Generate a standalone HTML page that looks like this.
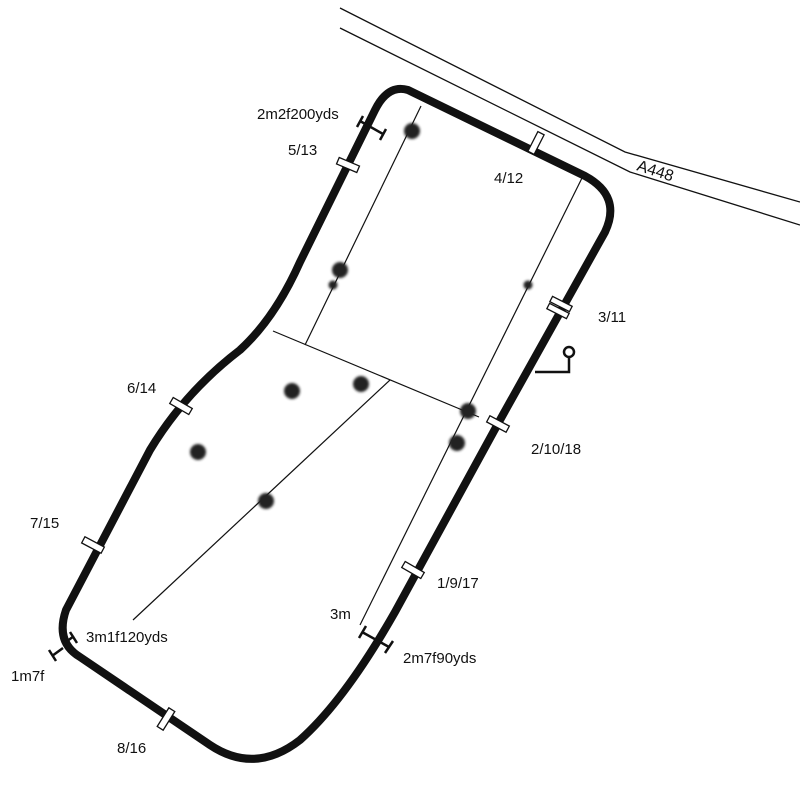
<!DOCTYPE html>
<html><head><style>body{margin:0;background:#fff}svg{display:block}text{font-family:"Liberation Sans",sans-serif;font-size:15px;fill:#111}</style></head>
<body>
<svg width="800" height="785" viewBox="0 0 800 785" xmlns="http://www.w3.org/2000/svg">
<defs><filter id="b"><feGaussianBlur stdDeviation="1.3"/></filter></defs>
<!-- road -->
<polyline points="340,8 625,152 800,202" fill="none" stroke="#111" stroke-width="1.3"/>
<polyline points="340,28 630,172 800,225" fill="none" stroke="#111" stroke-width="1.3"/>
<text x="636" y="170" transform="rotate(18 636 170)" style="font-size:16px">A448</text>
<!-- inner lines -->
<g stroke="#111" stroke-width="1.2" fill="none">
<line x1="421" y1="106" x2="305" y2="345"/>
<line x1="582" y1="178" x2="360" y2="625"/>
<line x1="273" y1="331" x2="479" y2="417"/>
<line x1="390" y1="380" x2="133" y2="620"/>
</g>
<!-- track -->
<path d="M408,90 L585,176 Q622,196 605,232 L500,420 L395,612 Q345,700 300,740 Q255,775 210,745 L80,657 Q55,642 66,610 L150,450 Q185,392 240,350 Q275,318 300,262 L375,110 Q388,84 408,90 Z" fill="none" stroke="#111" stroke-width="8" stroke-linejoin="round"/>
<!-- dots -->
<g fill="#222" filter="url(#b)">
<circle cx="412" cy="131" r="8"/><circle cx="340" cy="270" r="8"/><circle cx="333" cy="285" r="4.5"/>
<circle cx="528" cy="285" r="4.5"/><circle cx="292" cy="391" r="8"/><circle cx="361" cy="384" r="8"/>
<circle cx="468" cy="411" r="8"/><circle cx="457" cy="443" r="8"/><circle cx="198" cy="452" r="8"/>
<circle cx="266" cy="501" r="8"/>
</g>
<!-- markers -->
<g fill="#fff" stroke="#111" stroke-width="1.3">
<rect x="-11" y="-3.5" width="22" height="7" transform="translate(536,143) rotate(-63)"/>
<rect x="-11" y="-3.5" width="22" height="7" transform="translate(348,165) rotate(23)"/>
<rect x="-11" y="-3" width="22" height="6" transform="translate(561,304) rotate(27)"/>
<rect x="-11" y="-3" width="22" height="6" transform="translate(558,311) rotate(27)"/>
<rect x="-11" y="-3.5" width="22" height="7" transform="translate(498,424) rotate(28)"/>
<rect x="-11" y="-3.5" width="22" height="7" transform="translate(181,406) rotate(30)"/>
<rect x="-11" y="-3.5" width="22" height="7" transform="translate(93,545) rotate(28)"/>
<rect x="-11" y="-3.5" width="22" height="7" transform="translate(413,570) rotate(30)"/>
<rect x="-11" y="-3.5" width="22" height="7" transform="translate(166,719) rotate(-58)"/>
</g>
<!-- distance ticks -->
<g stroke="#111" stroke-width="2.5" fill="none">
<path d="M360,121 L383,134 M357,127 L363,116 M380,140 L386,129"/>
<path d="M362,632 L389,647 M359,638 L366,626 M385,653 L393,641"/>
<path d="M52,656 L63,648 M49,650 L56,661 M66,642 L74,636 M70,632 L77,643"/>
<path d="M535,372 L569,372 L569,357"/>
</g>
<circle cx="569" cy="352" r="5" fill="#fff" stroke="#111" stroke-width="2.5"/>
<!-- labels -->
<text x="257" y="119">2m2f200yds</text>
<text x="288" y="155">5/13</text>
<text x="494" y="183">4/12</text>
<text x="598" y="322">3/11</text>
<text x="531" y="454">2/10/18</text>
<text x="127" y="393">6/14</text>
<text x="30" y="528">7/15</text>
<text x="437" y="588">1/9/17</text>
<text x="330" y="619">3m</text>
<text x="86" y="642">3m1f120yds</text>
<text x="403" y="663">2m7f90yds</text>
<text x="11" y="681">1m7f</text>
<text x="117" y="753">8/16</text>
</svg>
</body></html>
